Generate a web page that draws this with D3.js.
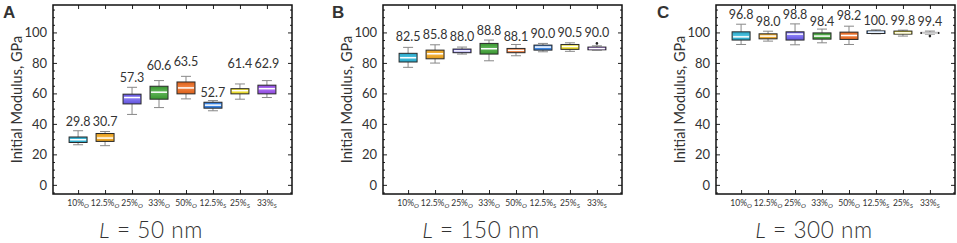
<!DOCTYPE html>
<html>
<head>
<meta charset="utf-8">
<script src="https://cdn.jsdelivr.net/npm/d3@7"></script>
<style>
    body { margin: 0; background: #fff; }
    svg { display: block; }
    text { font-family: Lato, "Noto Sans", sans-serif; fill: #333; }
</style>
</head>
<body>
<div id="chart"></div>
<script>
// categories: percentage + subscript letter
const catPct = ["10%", "12.5%", "25%", "33%", "50%", "12.5%", "25%", "33%"];
const catSub = ["O", "O", "O", "O", "O", "S", "S", "S"];
const catColors = ["#27b4d9", "#f7a81a", "#6b5bf2", "#3ea534", "#f26a1c", "#2b7fe9", "#f4e31c", "#9a4ef1"];
const yTicks = [0, 20, 40, 60, 80, 100];

// L = 50 nm
const lowA = [26.3, 25.7, 46.2, 50.7, 56.4, 48.6, 56.2, 57.3];
const q1A = [27.8, 28.5, 53.1, 56.2, 59.7, 50.3, 59.7, 59.7];
const medA = [29.6, 30.7, 57.3, 60.8, 63.6, 52.3, 61.8, 63.1];
const q3A = [31.4, 33.7, 59.5, 64.7, 67.5, 54.2, 63.1, 65.4];
const highA = [35.5, 35.0, 64.0, 68.4, 71.2, 55.3, 66.2, 68.4];
const outA = [[], [], [], [], [], [], [], []];
const labelsA = ["29.8", "30.7", "57.3", "60.6", "63.5", "52.7", "61.4", "62.9"];
const labelAtA = [38.8, 38.8, 67.7, 75.4, 78.0, 57.9, 76.5, 76.5];

// L = 150 nm
const lowB = [77.1, 79.9, 85.8, 81.4, 84.7, 87.3, 87.6, 88.4];
const q1B = [80.6, 82.7, 86.7, 85.8, 86.7, 88.4, 88.9, 88.6];
const medB = [83.4, 86.0, 87.9, 89.3, 88.2, 90.4, 90.8, 89.4];
const q3B = [86.3, 88.4, 89.1, 92.8, 89.5, 91.7, 92.1, 90.4];
const highB = [90.2, 91.9, 90.4, 95.0, 92.1, 92.8, 93.2, 91.2];
const outB = [[], [], [], [], [], [], [], [92.8]];
const labelsB = ["82.5", "85.8", "88.0", "88.8", "88.1", "90.0", "90.5", "90.0"];
const labelAtB = [94.7, 95.9, 94.7, 98.2, 94.7, 96.5, 97.2, 97.2];

// L = 300 nm
const lowC = [92.1, 94.3, 91.9, 93.2, 92.1, 99.1, 97.6, 98.9];
const q1C = [95.0, 95.8, 95.0, 95.6, 95.4, 99.3, 98.9, 99.3];
const medC = [97.1, 97.6, 98.9, 97.6, 98.0, 100.2, 99.7, 99.6];
const q3C = [100.4, 99.1, 100.4, 99.7, 100.2, 101.0, 100.9, 100.0];
const highC = [105.4, 100.8, 105.6, 102.2, 104.1, 101.7, 101.5, 100.9];
const outC = [[], [], [], [], [], [], [], [97.6]];
const labelsC = ["96.8", "98.0", "98.8", "98.4", "98.2", "100.", "99.8", "99.4"];
const labelAtC = [109.0, 104.1, 109.0, 104.1, 108.0, 104.8, 104.8, 104.1];

const panels = [
    { letter: "A", length: "50", left: 53, letterX: 3, low: lowA, q1: q1A, med: medA, q3: q3A, high: highA, out: outA, labels: labelsA, labelAt: labelAtA },
    { letter: "B", length: "150", left: 383, letterX: 332, low: lowB, q1: q1B, med: medB, q3: q3B, high: highB, out: outB, labels: labelsB, labelAt: labelAtB },
    { letter: "C", length: "300", left: 716, letterX: 657, low: lowC, q1: q1C, med: medC, q3: q3C, high: highC, out: outC, labels: labelsC, labelAt: labelAtC }
];

const width = 957, height = 243;
const frameW = 239, frameH = 189, frameTop = 5;
const boxW = 18, capW = 10;

const svg = d3.select("#chart").append("svg")
    .attr("width", width)
    .attr("height", height);

// glossy gradient for each colour
const defs = svg.append("defs");
catColors.forEach((c, i) => {
    const g = defs.append("linearGradient")
        .attr("id", `grad${i}`)
        .attr("x1", 0).attr("x2", 0).attr("y1", 0).attr("y2", 1);
    g.append("stop").attr("offset", "0%").attr("stop-color", d3.interpolateRgb(c, "#000")(0.1));
    g.append("stop").attr("offset", "45%").attr("stop-color", d3.interpolateRgb(c, "#fff")(0.18));
    g.append("stop").attr("offset", "100%").attr("stop-color", d3.interpolateRgb(c, "#000")(0.1));
});

const y = d3.scaleLinear([-6, 118], [frameTop + frameH, frameTop]);
const minorTicks = d3.range(-5, 118, 5).filter(v => v % 20 !== 0);

panels.forEach(p => {
    const g = svg.append("g").attr("transform", `translate(${p.left},0)`);
    const x = d3.scalePoint(d3.range(catPct.length), [0, frameW]).padding(0.93);

    // left axis with labels, ticks pointing inward
    const axL = g.append("g").call(d3.axisLeft(y).tickValues(yTicks).tickSizeInner(-4).tickSizeOuter(0).tickPadding(6));
    axL.selectAll("text").style("font-size", "13px").attr("fill", "#333");
    g.append("g").call(d3.axisLeft(y).tickValues(minorTicks).tickSizeInner(-2).tickSizeOuter(0).tickFormat(""));
    // right axis mirror
    const right = g.append("g").attr("transform", `translate(${frameW},0)`);
    right.call(d3.axisRight(y).tickValues(yTicks).tickSizeInner(-4).tickSizeOuter(0).tickFormat(""));
    right.append("g").call(d3.axisRight(y).tickValues(minorTicks).tickSizeInner(-2).tickSizeOuter(0).tickFormat(""));
    // bottom and top ticks at categories
    g.append("g").attr("transform", `translate(0,${frameTop + frameH})`)
        .call(d3.axisBottom(x).tickSizeInner(-4).tickSizeOuter(0).tickFormat(""));
    g.append("g").attr("transform", `translate(0,${frameTop})`)
        .call(d3.axisTop(x).tickSizeInner(-4).tickSizeOuter(0).tickFormat(""));
    g.selectAll(".domain").remove();
    g.selectAll(".tick line").attr("stroke", "#222");

    // frame
    g.append("rect")
        .attr("x", 0).attr("y", frameTop)
        .attr("width", frameW).attr("height", frameH)
        .attr("fill", "none").attr("stroke", "#111").attr("stroke-width", 1.5);

    // category labels with subscripts
    const xl = g.append("g").selectAll("text").data(d3.range(catPct.length)).join("text")
        .attr("x", i => x(i))
        .attr("y", 206)
        .attr("text-anchor", "middle")
        .style("font-size", "8.5px")
        .attr("fill", "#444");
    xl.append("tspan").text(i => catPct[i]);
    xl.append("tspan").attr("dy", 2).style("font-size", "6.5px").style("font-style", "italic").text(i => catSub[i]);

    // boxes
    const boxes = g.append("g").selectAll("g").data(d3.range(catPct.length)).join("g");
    boxes.append("line")
        .attr("x1", i => x(i)).attr("x2", i => x(i))
        .attr("y1", i => y(p.high[i])).attr("y2", i => y(p.q3[i]))
        .attr("stroke", "#888").attr("stroke-width", 1);
    boxes.append("line")
        .attr("x1", i => x(i)).attr("x2", i => x(i))
        .attr("y1", i => y(p.q1[i])).attr("y2", i => y(p.low[i]))
        .attr("stroke", "#888").attr("stroke-width", 1);
    boxes.append("line")
        .attr("x1", i => x(i) - capW / 2).attr("x2", i => x(i) + capW / 2)
        .attr("y1", i => y(p.high[i])).attr("y2", i => y(p.high[i]))
        .attr("stroke", "#888").attr("stroke-width", 1);
    boxes.append("line")
        .attr("x1", i => x(i) - capW / 2).attr("x2", i => x(i) + capW / 2)
        .attr("y1", i => y(p.low[i])).attr("y2", i => y(p.low[i]))
        .attr("stroke", "#888").attr("stroke-width", 1);
    boxes.append("rect")
        .attr("x", i => x(i) - boxW / 2)
        .attr("y", i => y(p.q3[i]))
        .attr("width", boxW)
        .attr("height", i => y(p.q1[i]) - y(p.q3[i]))
        .attr("fill", i => `url(#grad${i})`)
        .attr("stroke", "#2a2a2a").attr("stroke-width", 1);
    boxes.append("line")
        .attr("x1", i => x(i) - boxW / 2 + 1).attr("x2", i => x(i) + boxW / 2 - 1)
        .attr("y1", i => y(p.med[i])).attr("y2", i => y(p.med[i]))
        .attr("stroke", "#fff").attr("stroke-width", 1.5);
    boxes.selectAll("circle").data(i => p.out[i].map(v => [i, v])).join("circle")
        .attr("cx", d => x(d[0])).attr("cy", d => y(d[1]))
        .attr("r", 1.3).attr("fill", "#222");

    // value labels
    g.append("g").selectAll("text").data(d3.range(catPct.length)).join("text")
        .attr("x", i => x(i))
        .attr("y", i => y(p.labelAt[i]))
        .attr("text-anchor", "middle")
        .style("font-size", "12.5px")
        .text(i => p.labels[i]);

    // y axis title
    g.append("text")
        .attr("transform", `translate(-31,${frameTop + frameH / 2})rotate(-90)`)
        .attr("text-anchor", "middle")
        .style("font-size", "14.5px")
        .text("Initial Modulus, GPa");

    // panel letter
    svg.append("text")
        .attr("x", p.letterX).attr("y", 18)
        .style("font-family", "Arial, 'Liberation Sans', sans-serif")
        .style("font-weight", "bold").style("font-size", "17px")
        .attr("fill", "#000")
        .text(p.letter);

    // panel title
    const t = g.append("text")
        .attr("x", 98).attr("y", 238)
        .attr("text-anchor", "middle")
        .style("font-size", "22.5px")
        .style("font-weight", 300)
        .style("letter-spacing", "0.6px")
        .attr("fill", "#111");
    t.append("tspan").style("font-style", "italic").text("L");
    t.append("tspan").text(` = ${p.length} nm`);
});
</script>
</body>
</html>
